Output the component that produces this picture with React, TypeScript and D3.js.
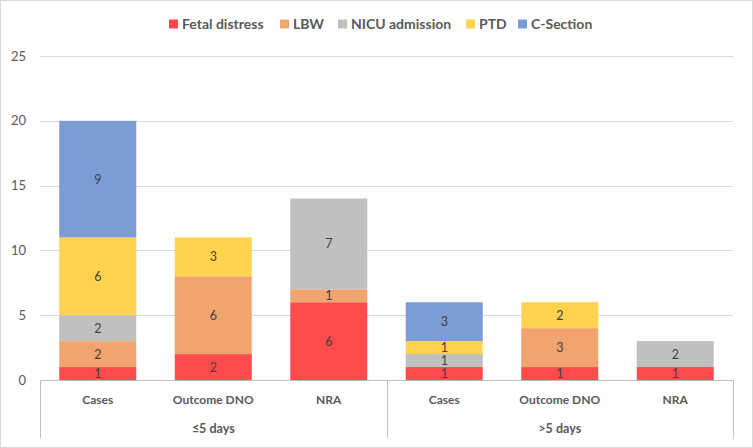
import React from "react";
import * as d3 from "d3";

const groups = ["≤5 days", ">5 days"];
const categories = ["Cases", "Outcome DNO", "NRA"];
const seriesNames = ["Fetal distress", "LBW", "NICU admission", "PTD", "C-Section"];
const colors = ["#FF4B4B", "#F2A46F", "#C0C0C0", "#FFD34D", "#7C9CD6"];
// values per series, across the 6 bars (group1: Cases, Outcome DNO, NRA; group2 same)
const fetalDistress = [1, 2, 6, 1, 1, 1];
const lbw = [2, 6, 1, 0, 3, 0];
const nicu = [2, 0, 7, 1, 0, 2];
const ptd = [6, 3, 0, 1, 2, 0];
const cSection = [9, 0, 0, 3, 0, 0];
const yTicks = [0, 5, 10, 15, 20, 25];

const W = 753;
const H = 448;
const left = 40;
const right = 733;
const yTop = 56;
const yBottom = 380;
const catBottom = 438;
const font = "Lato, 'Open Sans', sans-serif";

export default function App() {
  const seriesValues = [fetalDistress, lbw, nicu, ptd, cSection];
  const barKeys = groups.flatMap((g) => categories.map((c) => `${g}|${c}`));
  const x = d3.scaleBand<string>().domain(barKeys).range([left, right]).paddingInner(1 / 3).paddingOuter(1 / 6);
  const y = d3.scaleLinear().domain([0, 25]).range([yBottom, yTop]);
  const table = barKeys.map((k, i) => {
    const row: any = { key: k };
    seriesNames.forEach((s, j) => (row[s] = seriesValues[j][i]));
    return row;
  });
  const stacked = d3.stack().keys(seriesNames)(table);
  const step = (right - left) / barKeys.length;
  const groupWidth = step * categories.length;

  const legendX = [169, 280, 338, 466, 518];

  return (
    <svg width={W} height={H} style={{ position: "absolute", left: 0, top: 0 }} fontFamily={font}>
      <rect x={0} y={0} width={W} height={H} fill="#fff" />
      <rect x={0.5} y={0.5} width={W - 1} height={H - 1} fill="none" stroke="#D9D9D9" />
      {/* gridlines */}
      {yTicks.map((t) => (
        <line key={t} x1={left} x2={right} y1={Math.round(y(t)) + 0.5} y2={Math.round(y(t)) + 0.5} stroke="#D9D9D9" />
      ))}
      {yTicks.map((t) => (
        <text key={"l" + t} x={26} y={y(t) + 4.5} textAnchor="end" fontSize={13} fill="#595959">
          {t}
        </text>
      ))}
      {/* bars */}
      {stacked.map((layer, si) =>
        layer.map((d, i) => {
          const v = d[1] - d[0];
          if (v <= 0) return null;
          const key = barKeys[i];
          return (
            <g key={si + "-" + i}>
              <rect x={x(key)} y={y(d[1])} width={x.bandwidth()} height={y(d[0]) - y(d[1])} fill={colors[si]} />
              <text
                x={(x(key) as number) + x.bandwidth() / 2}
                y={(y(d[0]) + y(d[1])) / 2 + 4.5}
                textAnchor="middle"
                fontSize={12.5}
                fill="#404040"
              >
                {v}
              </text>
            </g>
          );
        })
      )}
      {/* category axis */}
      <line x1={left} x2={right} y1={yBottom + 0.5} y2={yBottom + 0.5} stroke="#BFBFBF" />
      {d3.range(groups.length + 1).map((i) => (
        <line
          key={"sep" + i}
          x1={Math.round(left + i * groupWidth) + 0.5}
          x2={Math.round(left + i * groupWidth) + 0.5}
          y1={yBottom}
          y2={catBottom}
          stroke="#BFBFBF"
        />
      ))}
      {barKeys.map((k) => (
        <text
          key={"c" + k}
          x={(x(k) as number) + x.bandwidth() / 2}
          y={404}
          textAnchor="middle"
          fontSize={12}
          fontWeight="bold"
          fill="#595959"
        >
          {k.split("|")[1]}
        </text>
      ))}
      {groups.map((g, i) => (
        <text
          key={"g" + g}
          x={left + (i + 0.5) * groupWidth}
          y={433}
          textAnchor="middle"
          fontSize={12.5}
          fontWeight="bold"
          fill="#595959"
        >
          {g}
        </text>
      ))}
      {/* legend */}
      {seriesNames.map((s, i) => (
        <g key={"lg" + s}>
          <rect x={legendX[i]} y={19.5} width={9} height={9} fill={colors[i]} />
          <text x={legendX[i] + 13} y={28.5} fontSize={14} fontWeight="bold" fill="#595959">
            {s}
          </text>
        </g>
      ))}
    </svg>
  );
}
